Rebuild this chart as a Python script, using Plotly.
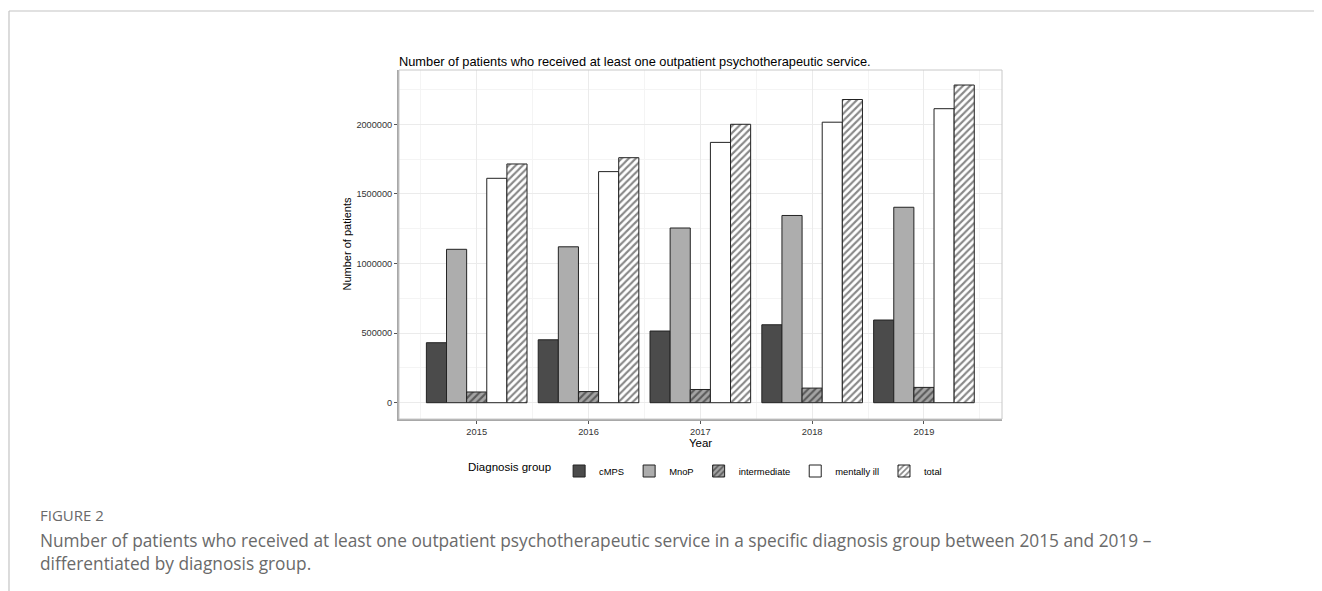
import plotly.graph_objects as go

years = [2015, 2016, 2017, 2018, 2019]
groups = ["cMPS", "MnoP", "intermediate", "mentally ill", "total"]
cmps = [431000, 452000, 515000, 560000, 594000]
mnop = [1102000, 1120000, 1255000, 1345000, 1404000]
intermediate = [77000, 80000, 95000, 105000, 110000]
mentally_ill = [1612000, 1660000, 1870000, 2015000, 2112000]
total = [1715000, 1760000, 2000000, 2178000, 2282000]
y_ticks = [0, 500000, 1000000, 1500000, 2000000]

series = [cmps, mnop, intermediate, mentally_ill, total]
fills = ["#4b4b4b", "#adadad", "#a4a4a4", "#ffffff", "#ffffff"]
patterns = ["", "", "/", "", "/"]

# the page body adds an 8px offset; work in reference-page pixels
OFF = 8
W, H = 1322 - OFF, 591 - OFF
L, R, T, B = 399 - OFF, 1002 - OFF, 70 - OFF, 419 - OFF


def px(xr):
    return (xr - OFF - L) / (R - L)


def py(yr):
    return (B - (yr - OFF)) / (B - T)


fig = go.Figure()
for name, vals, col, pat in zip(groups, series, fills, patterns):
    fig.add_trace(go.Bar(
        x=years, y=vals, name=name,
        marker=dict(color=col, line=dict(color="#222222", width=1),
                    pattern=dict(shape=pat, fgcolor="#111111", bgcolor=col,
                                 size=5, solidity=0.42, fillmode="overlay") if pat else None),
    ))

FONT = "Arial, Liberation Sans, Helvetica, sans-serif"
fig.update_layout(
    width=W, height=H, autosize=False,
    margin=dict(l=L, r=W - R, t=T, b=H - B, pad=0),
    paper_bgcolor="white", plot_bgcolor="white",
    barmode="group", bargap=0.1, bargroupgap=0,
    font=dict(family=FONT, color="#000000"),
    title=dict(text="Number of patients who received at least one outpatient psychotherapeutic service.",
               font=dict(size=12.8, color="#000000", family=FONT),
               xref="paper", x=0, xanchor="left",
               yref="container", y=1 - (62 - OFF) / H, yanchor="middle"),
    showlegend=True,
    legend=dict(orientation="h", x=px(466), xanchor="left",
                y=py(471), yanchor="middle",
                font=dict(size=9.4, color="#000000", family=FONT),
                title=dict(text="Diagnosis group", side="left",
                           font=dict(size=11.5, color="#000000", family=FONT)),
                itemwidth=30, tracegroupgap=0, traceorder="normal"),
)
fig.update_xaxes(
    range=[2015 - 0.695, 2019 + 0.698], tickvals=years, ticktext=[str(v) for v in years],
    showgrid=True, gridcolor="#ebebeb", gridwidth=1,
    minor=dict(dtick=0.5, tick0=2014.5, showgrid=True, gridcolor="#f4f4f4", gridwidth=0.6),
    ticks="outside", ticklen=3, tickcolor="#555555", tickwidth=1,
    showline=True, linecolor="#a8a8a8", linewidth=2, zeroline=False,
    tickfont=dict(size=9.3, color="#333333", family=FONT),
    title=dict(text="Year", font=dict(size=11.5, color="#000000", family=FONT), standoff=0),
)
fig.update_yaxes(
    range=[-117000, 2390000], tickvals=y_ticks, ticktext=[str(v) for v in y_ticks],
    showgrid=True, gridcolor="#ebebeb", gridwidth=1,
    minor=dict(tickvals=[250000, 750000, 1250000, 1750000, 2250000], showgrid=True,
               gridcolor="#f4f4f4", gridwidth=0.6),
    ticks="outside", ticklen=3, tickcolor="#555555", tickwidth=1,
    showline=True, linecolor="#a8a8a8", linewidth=2, zeroline=False,
    tickfont=dict(size=9.2, color="#333333", family=FONT),
)
fig.add_annotation(text="Number of patients", xref="paper", yref="paper",
                   x=px(346), y=0.5, xanchor="center", yanchor="middle", textangle=-90,
                   showarrow=False, font=dict(size=11, color="#000000", family=FONT))
# panel border (top/right)
fig.add_shape(type="rect", xref="paper", yref="paper", x0=0, x1=1, y0=0, y1=1,
              line=dict(color="#c8c8c8", width=1), fillcolor="rgba(0,0,0,0)", layer="above")
# page frame lines
fig.add_shape(type="line", xref="paper", yref="paper",
              x0=px(9), x1=px(1330), y0=py(11), y1=py(11),
              line=dict(color="#c4c4c4", width=1.2))
fig.add_shape(type="line", xref="paper", yref="paper",
              x0=px(9), x1=px(9), y0=py(11), y1=py(600),
              line=dict(color="#c4c4c4", width=1.2))

CAP = "Open Sans, Noto Sans, sans-serif"
fig.add_annotation(text="FIGURE 2", xref="paper", yref="paper",
                   x=px(38), y=py(515), xanchor="left", yanchor="middle",
                   showarrow=False, font=dict(size=15, color="#6a6a6a", family=CAP))
fig.add_annotation(text="Number of patients who received at least one outpatient psychotherapeutic service in a specific diagnosis group between 2015 and 2019 –",
                   xref="paper", yref="paper",
                   x=px(38), y=py(540), xanchor="left", yanchor="middle",
                   showarrow=False, font=dict(size=17.3, color="#6a6a6a", family=CAP))
fig.add_annotation(text="differentiated by diagnosis group.",
                   xref="paper", yref="paper",
                   x=px(38), y=py(563.5), xanchor="left", yanchor="middle",
                   showarrow=False, font=dict(size=17.3, color="#6a6a6a", family=CAP))

fig.write_html("out.html")
